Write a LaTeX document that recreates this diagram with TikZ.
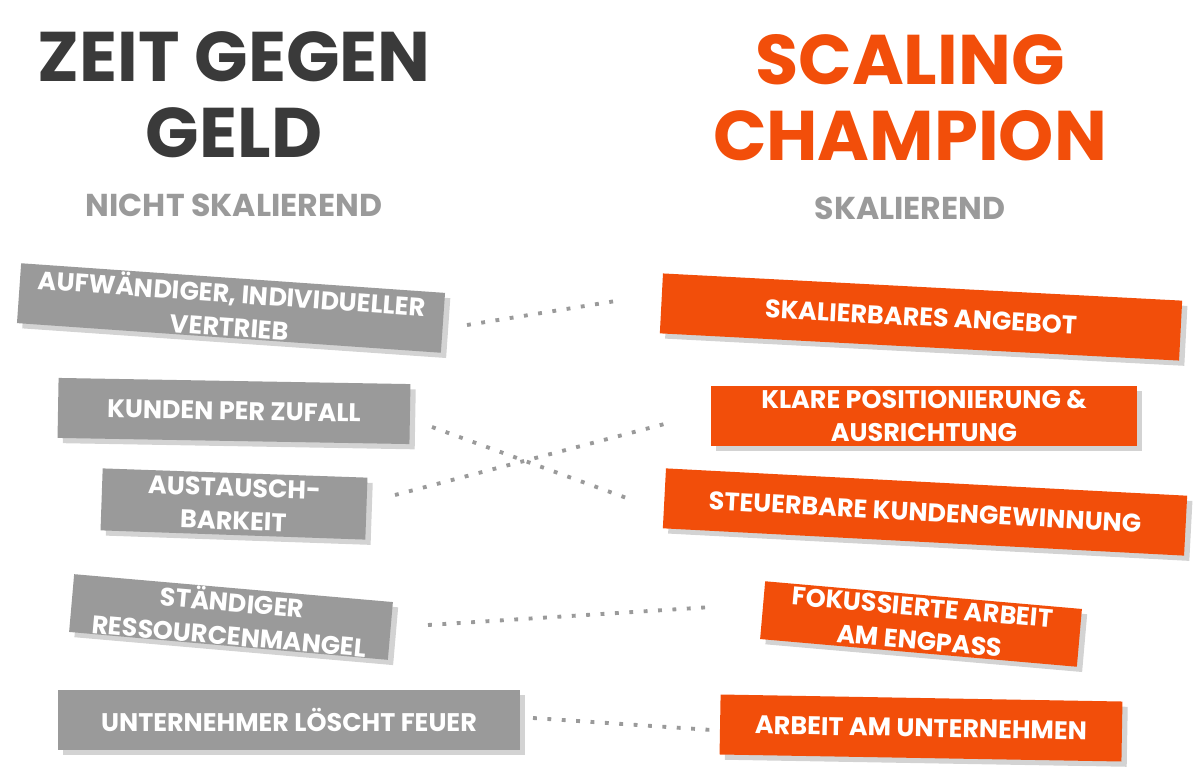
\documentclass[tikz,border=0pt]{standalone}
\usepackage{fontspec}
\setmainfont{Poppins}
\usetikzlibrary{shadows}
\definecolor{darkgray}{HTML}{3A3A3A}
\definecolor{boxgray}{HTML}{9A9A9A}
\definecolor{scaleorange}{HTML}{F24E0A}
\tikzset{
  oldbox/.style={fill=boxgray, text=white, font=\bfseries\fontsize{14.5}{19}\selectfont, align=center, inner sep=0pt, drop shadow={opacity=0.35, shadow xshift=3pt, shadow yshift=-3pt}},
  newbox/.style={oldbox, fill=scaleorange},
  link/.style={boxgray, line width=2.2pt, dash pattern=on 2.2pt off 6pt},
}
\begin{document}
\begin{tikzpicture}[x=0.02cm,y=-0.02cm]
\useasboundingbox (0,0) rectangle (1202,773);

% titles
\node[darkgray, font=\bfseries\fontsize{40}{43}\selectfont, align=center] (lefttitle) at (234,95) {ZEIT GEGEN\\GELD};
\node[scaleorange, font=\bfseries\fontsize{40}{43}\selectfont, align=center] (righttitle) at (910,98) {SCALING\\CHAMPION};
\node[boxgray, font=\bfseries\fontsize{18}{20}\selectfont] (leftsub) at (234,205) {NICHT SKALIEREND};
\node[boxgray, font=\bfseries\fontsize{18}{20}\selectfont] (rightsub) at (910,208) {SKALIEREND};

% left boxes
\node[oldbox, rotate=-4, minimum width=8.5cm, minimum height=1.2cm] (l1) at (231,308) {AUFWÄNDIGER, INDIVIDUELLER\\VERTRIEB};
\node[oldbox, rotate=-1, minimum width=7.04cm, minimum height=1.2cm] (l2) at (234,411) {KUNDEN PER ZUFALL};
\node[oldbox, rotate=-2, minimum width=5.3cm, minimum height=1.24cm] (l3) at (234,504) {AUSTAUSCH-\\BARKEIT};
\node[oldbox, rotate=-5, minimum width=6.4cm, minimum height=1.16cm] (l4) at (231,617) {STÄNDIGER\\RESSOURCENMANGEL};
\node[oldbox, minimum width=9.24cm, minimum height=1.2cm] (l5) at (289,720) {UNTERNEHMER LÖSCHT FEUER};

% right boxes
\node[newbox, rotate=-3, minimum width=10.4cm, minimum height=1.2cm] (r1) at (921,317) {SKALIERBARES ANGEBOT};
\node[newbox, minimum width=8.52cm, minimum height=1.2cm] (r2) at (924,416) {KLARE POSITIONIERUNG \&\\AUSRICHTUNG};
\node[newbox, rotate=-3, minimum width=10.44cm, minimum height=1.2cm] (r3) at (925,512) {STEUERBARE KUNDENGEWINNUNG};
\node[newbox, rotate=-5, minimum width=6.36cm, minimum height=1.16cm] (r4) at (921,624) {FOKUSSIERTE ARBEIT\\AM ENGPASS};
\node[newbox, rotate=-1, minimum width=8.04cm, minimum height=1.2cm] (r5) at (921,728) {ARBEIT AM UNTERNEHMEN};

% link ends
\coordinate (a1) at (467,325); \coordinate (b1) at (622,300);
\coordinate (a2) at (432,427); \coordinate (b3) at (632,500);
\coordinate (a3) at (395,495); \coordinate (b2) at (672,422);
\coordinate (a4) at (428,625); \coordinate (b4) at (712,607);
\coordinate (a5) at (533,718); \coordinate (b5) at (712,730);

\draw[link] (a1) -- (b1);
\draw[link] (a2) -- (b3);
\draw[link] (a3) -- (b2);
\draw[link] (a4) -- (b4);
\draw[link] (a5) -- (b5);
\end{tikzpicture}
\end{document}
